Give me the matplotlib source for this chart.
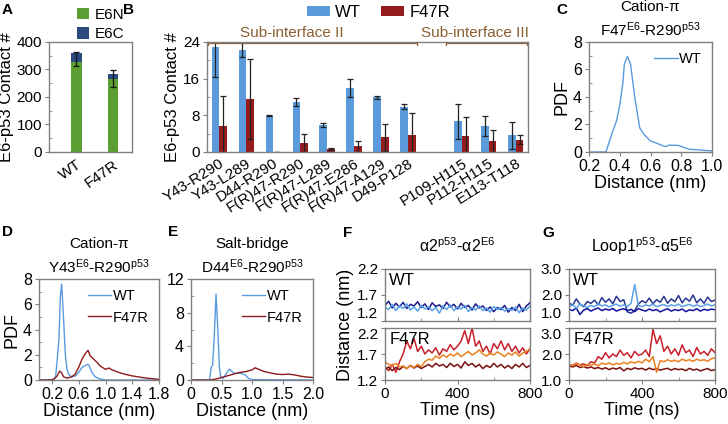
import matplotlib
import numpy as np

matplotlib.use("Agg")
import matplotlib.pyplot as plt  # noqa: E402
from matplotlib.ticker import MultipleLocator  # noqa: E402

plt.rcParams["font.family"] = ["Liberation Sans", "DejaVu Sans"]
plt.rcParams["mathtext.fontset"] = "custom"
plt.rcParams["mathtext.rm"] = "Liberation Sans"
plt.rcParams["mathtext.it"] = "Liberation Sans:italic"
plt.rcParams["mathtext.bf"] = "Liberation Sans:bold"
plt.rcParams["axes.edgecolor"] = "#808080"
plt.rcParams["axes.linewidth"] = 1.0
plt.rcParams["xtick.color"] = "#808080"
plt.rcParams["ytick.color"] = "#808080"
plt.rcParams["xtick.labelcolor"] = "black"
plt.rcParams["ytick.labelcolor"] = "black"

# ---- A: total contacts -------------------------------------------------
a_variants = ["WT", "F47R"]
a_e6n = [328, 267]
a_e6c = [33, 16]
a_err_mid = [337, 266]
a_err = [25, 31]

# ---- B: residue pair contacts -------------------------------------------
b_pairs = ["Y43-R290", "Y43-L289", "D44-R290", "F(R)47-R290", "F(R)47-L289",
           "F(R)47-E286", "F(R)47-A129", "D49-P128",
           "P109-H115", "P112-H115", "E113-T118"]
b_wt = [22.8, 22.3, 7.95, 10.85, 5.9, 13.9, 11.9, 9.9, 6.7, 5.6, 3.6]
b_wt_err = [6.5, 1.6, 0.2, 0.85, 0.4, 1.95, 0.25, 0.5, 3.85, 2.2, 2.85]
b_mut = [5.7, 11.5, 0.1, 1.95, 0.6, 1.2, 3.2, 3.75, 3.4, 2.4, 2.7]
b_mut_err = [6.5, 8.7, 0.0, 2.0, 0.25, 1.2, 2.9, 4.85, 4.3, 2.3, 1.05]

# ---- C: F47-R290 distance PDF (WT) ---------------------------------------
c_x = [0.2, 0.25, 0.31, 0.35, 0.38, 0.40, 0.42, 0.43, 0.45, 0.47, 0.50, 0.53,
       0.56, 0.60, 0.65, 0.68, 0.70, 0.72, 0.78, 0.80, 0.85, 0.90, 0.95, 1.0]
c_wt = [0.0, 0.0, 0.0, 1.37, 2.3, 3.4, 5.0, 6.4, 6.95, 6.4, 3.8, 1.75,
        1.25, 0.8, 0.6, 0.45, 0.4, 0.5, 0.48, 0.4, 0.2, 0.17, 0.12, 0.08]

# ---- D: Y43-R290 distance PDF ---------------------------------------------
d_x_wt = [0.0, 0.14, 0.22, 0.25, 0.28, 0.30, 0.32, 0.34, 0.37, 0.395, 0.42,
          0.445, 0.49, 0.54, 0.595, 0.645, 0.695, 0.735, 0.755, 0.795, 0.845,
          0.895, 0.945, 1.0, 1.8]
d_wt = [0.0, 0.0, 0.05, 0.3, 2.0, 3.4, 6.6, 7.6, 4.7, 2.0, 0.85,
        0.45, 0.25, 0.3, 0.6, 1.0, 1.15, 1.25, 1.1, 0.6, 0.25,
        0.12, 0.05, 0.0, 0.0]
d_x_mut = [0.0, 0.15, 0.22, 0.27, 0.31, 0.335, 0.37, 0.42, 0.49, 0.54, 0.595,
           0.645, 0.695, 0.735, 0.77, 0.82, 0.87, 0.92, 0.995, 1.05, 1.095,
           1.15, 1.195, 1.295, 1.395, 1.545, 1.695, 1.8]
d_mut = [0.0, 0.0, 0.05, 0.3, 0.7, 0.6, 0.25, 0.15, 0.25, 0.45, 1.0,
         1.65, 2.1, 2.35, 1.9, 1.65, 1.4, 1.1, 0.85, 0.95, 0.8,
         0.7, 0.6, 0.45, 0.33, 0.2, 0.1, 0.05]

# ---- E: D44-R290 distance PDF ---------------------------------------------
e_x_wt = [0.0, 0.305, 0.33, 0.355, 0.38, 0.41, 0.44, 0.465, 0.49, 0.53, 0.59,
          0.63, 0.70, 0.81, 0.89, 0.94, 1.0, 2.0]
e_wt = [0.0, 0.0, 1.5, 1.8, 5.0, 10.2, 6.0, 1.5, 0.3, 0.2, 0.9,
        1.3, 0.8, 0.8, 0.6, 0.2, 0.05, 0.0]
e_x_mut = [0.0, 0.3, 0.4, 0.5, 0.6, 0.7, 0.8, 0.9, 1.0, 1.05, 1.1, 1.2, 1.3,
           1.4, 1.5, 1.6, 1.7, 1.8, 1.9, 2.0]
e_mut = [0.0, 0.0, 0.1, 0.3, 0.5, 0.7, 0.9, 1.0, 1.2, 1.45, 1.3, 1.0, 0.85,
         0.7, 0.65, 0.7, 0.6, 0.45, 0.35, 0.3]

# ---- F / G: distance time series (sampled every 20 ns) -----------------
f_wt_light = [1.47, 1.42, 1.52, 1.40, 1.49, 1.44, 1.53, 1.41, 1.47, 1.39,
              1.50, 1.43, 1.48, 1.40, 1.46, 1.35, 1.49, 1.42, 1.51, 1.40,
              1.47, 1.43, 1.50, 1.38, 1.46, 1.41, 1.49, 1.40, 1.45, 1.37,
              1.48, 1.42, 1.46, 1.39, 1.44, 1.40, 1.47, 1.36, 1.45, 1.41, 1.49]
f_wt_navy = [1.50, 1.58, 1.45, 1.54, 1.47, 1.56, 1.44, 1.52, 1.49, 1.57,
             1.46, 1.53, 1.42, 1.55, 1.48, 1.51, 1.44, 1.56, 1.47, 1.52,
             1.43, 1.54, 1.46, 1.50, 1.41, 1.53, 1.45, 1.49, 1.40, 1.47,
             1.38, 1.46, 1.42, 1.50, 1.37, 1.46, 1.40, 1.52, 1.38, 1.49, 1.55]
f_mut_red = [1.45, 1.38, 1.50, 1.35, 1.55, 1.70, 1.95, 1.80, 2.00, 1.75,
             1.85, 1.70, 1.78, 1.72, 1.82, 1.68, 1.80, 1.75, 1.88, 1.78,
             1.85, 1.95, 2.15, 1.90, 2.20, 1.85, 1.95, 1.75, 1.85, 1.70,
             1.90, 1.80, 1.95, 1.78, 1.90, 1.75, 1.85, 1.72, 1.82, 1.70, 1.80]
f_mut_orange = [1.55, 1.50, 1.48, 1.52, 1.45, 1.47, 1.42, 1.48, 1.44, 1.50,
                1.46, 1.55, 1.60, 1.58, 1.66, 1.62, 1.68, 1.64, 1.70, 1.66,
                1.72, 1.65, 1.70, 1.75, 1.68, 1.72, 1.78, 1.70, 1.66, 1.72,
                1.68, 1.74, 1.70, 1.65, 1.72, 1.68, 1.74, 1.66, 1.72, 1.75, 1.80]
f_mut_dark = [1.40, 1.45, 1.38, 1.44, 1.40, 1.46, 1.42, 1.48, 1.43, 1.47,
              1.42, 1.46, 1.50, 1.45, 1.52, 1.47, 1.50, 1.44, 1.52, 1.46,
              1.50, 1.43, 1.55, 1.48, 1.52, 1.45, 1.50, 1.42, 1.48, 1.44,
              1.52, 1.45, 1.50, 1.43, 1.48, 1.42, 1.50, 1.45, 1.52, 1.44, 1.48]

g_wt_light = [1.55, 1.62, 1.50, 1.65, 1.58, 1.52, 1.60, 1.55, 1.66, 1.58,
              1.62, 1.54, 1.60, 1.65, 1.57, 1.62, 1.55, 1.68, 2.40, 1.60,
              1.55, 1.62, 1.58, 1.65, 1.55, 1.60, 1.63, 1.56, 1.62, 1.58,
              1.65, 1.55, 1.60, 1.64, 1.57, 1.62, 1.55, 1.60, 1.65, 1.58, 1.62]
g_wt_dark = [1.70, 1.60, 1.85, 1.65, 1.55, 1.75, 1.68, 1.80, 1.62, 1.90,
             1.72, 1.85, 1.66, 1.95, 1.75, 1.82, 1.35, 1.30, 1.40, 1.65,
             1.78, 1.70, 1.88, 1.66, 1.82, 1.72, 1.95, 1.68, 1.85, 1.74,
             1.98, 1.70, 1.88, 1.76, 2.00, 1.70, 1.85, 1.68, 1.92, 1.75, 1.80]
g_wt_navy = [1.45, 1.40, 1.50, 1.25, 1.42, 1.48, 1.38, 1.45, 1.50, 1.40,
             1.46, 1.42, 1.48, 1.38, 1.44, 1.47, 1.40, 1.45, 1.36, 1.48,
             1.42, 1.38, 1.46, 1.40, 1.44, 1.35, 1.42, 1.47, 1.38, 1.44,
             1.40, 1.46, 1.36, 1.43, 1.40, 1.47, 1.38, 1.45, 1.41, 1.46, 1.43]
g_mut_red = [1.60, 1.55, 1.65, 1.58, 1.62, 1.55, 1.70, 1.65, 1.90, 1.80,
             2.05, 1.85, 2.00, 1.90, 2.15, 1.95, 2.05, 1.85, 2.10, 1.95,
             2.00, 2.15, 1.90, 2.95, 2.40, 2.70, 2.10, 2.30, 2.00, 2.20,
             1.95, 2.35, 2.05, 2.15, 1.90, 2.25, 2.00, 2.10, 1.95, 2.20, 2.05]
g_mut_orange = [1.60, 1.55, 1.62, 1.58, 1.52, 1.60, 1.56, 1.62, 1.55, 1.65,
                1.60, 1.66, 1.58, 1.64, 1.60, 1.68, 1.62, 1.70, 1.65, 1.72,
                1.66, 1.80, 1.70, 1.90, 1.30, 1.75, 1.70, 1.78, 1.72, 1.76,
                1.70, 1.80, 1.74, 1.78, 1.72, 1.80, 1.75, 1.78, 1.72, 1.82, 1.85]
g_mut_dark = [1.55, 1.50, 1.56, 1.48, 1.52, 1.46, 1.50, 1.44, 1.48, 1.42,
              1.47, 1.40, 1.46, 1.42, 1.48, 1.35, 1.45, 1.40, 1.47, 1.42,
              1.45, 1.38, 1.46, 1.40, 1.44, 1.38, 1.42, 1.45, 1.38, 1.44,
              1.40, 1.42, 1.36, 1.45, 1.38, 1.42, 1.35, 1.40, 1.44, 1.36, 1.40]
time_ns = np.arange(0, 801, 20)

C_WT = "#5a9be0"
C_MUT = "#8b1a1a"
C_BAR_WT = "#5b9bdc"
C_BAR_MUT = "#951c1c"
C_E6N = "#5b9e32"
C_E6C = "#2b4a80"
BROWN = "#8b5e34"

W, H = 728, 424
fig = plt.figure(figsize=(W / 100, H / 100), dpi=100)


def ax_at(left, top, right, bottom):
    return fig.add_axes([left / W, 1 - bottom / H, (right - left) / W, (bottom - top) / H])


def style(ax, fs=11):
    ax.tick_params(which="major", direction="out", length=3, width=0.8, labelsize=fs, pad=2)
    ax.tick_params(which="minor", direction="in", length=2, width=0.6)


def panel_label(x, y, s):
    fig.text(x / W, 1 - y / H, s, fontsize=11, fontweight="bold", ha="left", va="center")


# ---- A ----
axA = ax_at(49, 42, 132, 152)
xa = np.arange(len(a_variants))
axA.bar(xa, a_e6n, 0.3, color=C_E6N, label="E6N")
axA.bar(xa, a_e6c, 0.3, bottom=a_e6n, color=C_E6C, label="E6C")
axA.errorbar(xa, a_err_mid, yerr=a_err, fmt="none", ecolor="#111111", elinewidth=0.9,
             capsize=2.5, capthick=0.9)
axA.set_xlim(-0.75, 1.52)
axA.set_ylim(0, 400)
axA.set_yticks([0, 100, 200, 300, 400])
axA.yaxis.set_minor_locator(MultipleLocator(50))
axA.set_xticks(xa)
axA.set_xticklabels(a_variants, rotation=35, ha="right", rotation_mode="anchor")
style(axA)
axA.tick_params(axis="x", length=0, pad=4)
axA.set_ylabel("E6-p53 Contact #", fontsize=12, labelpad=2)
fig.legend(handles=axA.patches[:1] + axA.patches[2:3], labels=["E6N", "E6C"],
           loc="upper left", bbox_to_anchor=(66 / W, 1 + 3 / H), frameon=False,
           fontsize=11, handlelength=0.8, handleheight=0.8, handletextpad=0.35,
           labelspacing=0.35, borderpad=0.2)

# ---- B ----
axB = ax_at(207, 42, 528, 152)
xb = np.array(list(range(8)) + [9, 10, 11])
bw = 0.28
axB.bar(xb - bw / 2, b_wt, bw, color=C_BAR_WT, label="WT")
axB.bar(xb + bw / 2, b_mut, bw, color=C_BAR_MUT, label="F47R")
axB.errorbar(xb - bw / 2, b_wt, yerr=b_wt_err, fmt="none", ecolor="#222222",
             elinewidth=0.9, capsize=2.5, capthick=0.9)
axB.errorbar(xb + bw / 2, b_mut, yerr=b_mut_err, fmt="none", ecolor="#222222",
             elinewidth=0.9, capsize=2.5, capthick=0.9)
axB.set_xlim(-0.45, 11.45)
axB.set_ylim(0, 24)
axB.set_yticks([0, 8, 16, 24])
axB.yaxis.set_minor_locator(MultipleLocator(4))
axB.set_xticks(xb)
axB.set_xticklabels(b_pairs, rotation=32, ha="right", rotation_mode="anchor", fontsize=10)
style(axB)
axB.tick_params(axis="x", length=0, pad=3)
axB.set_ylabel("E6-p53 Contact #", fontsize=12, labelpad=2)
for x0, x1, xt, txt in [(-0.42, 7.33, 2.7, "Sub-interface II"),
                        (8.4, 11.42, 9.5, "Sub-interface III")]:
    axB.plot([x0, x1], [23.7, 23.7], color=BROWN, lw=0.9, clip_on=False)
    for xe in (x0, x1):
        axB.plot([xe, xe], [23.35, 24.05], color=BROWN, lw=0.9, clip_on=False)
    axB.text(xt, 26.0, txt, color=BROWN, fontsize=11, ha="center", va="center")
axB.legend(loc="upper left", bbox_to_anchor=(0.28, 1.43), ncol=2, frameon=False,
           fontsize=12, handlelength=1.4, handleheight=0.55, handletextpad=0.3,
           columnspacing=1.2, borderpad=0.1)


# ---- PDF panels ----
def pdf_panel(ax, title, curves, xlim, xticks, ylim, yticks):
    for xs, ys, col, lab in curves:
        ax.plot(xs, ys, color=col, lw=1.0, label=lab)
    ax.set_xlim(*xlim)
    ax.set_ylim(*ylim)
    ax.set_xticks(xticks)
    ax.set_yticks(yticks)
    style(ax, 11.5)
    ax.set_xlabel("Distance (nm)", fontsize=13, labelpad=1)
    ax.set_ylabel("PDF", fontsize=13, labelpad=2)
    ax.set_title(title, fontsize=11, linespacing=1.45, pad=4)
    ax.legend(loc="upper right", frameon=False, fontsize=10.5, handlelength=1.6,
              handletextpad=0.1, borderaxespad=0.3, labelspacing=0.5)


axC = ax_at(589, 42, 712, 152)
pdf_panel(axC, "Cation-π\nF47$^{\\mathrm{E6}}$-R290$^{\\mathrm{p53}}$",
          [(c_x, c_wt, C_WT, "WT")], (0.2, 1.0), [0.2, 0.4, 0.6, 0.8, 1.0],
          (0, 8), [0, 2, 4, 6, 8])
axC.yaxis.set_minor_locator(MultipleLocator(1))

axD = ax_at(39, 279, 159, 380)
pdf_panel(axD, "Cation-π\nY43$^{\\mathrm{E6}}$-R290$^{\\mathrm{p53}}$",
          [(d_x_wt, d_wt, C_WT, "WT"), (d_x_mut, d_mut, C_MUT, "F47R")],
          (0, 1.8), [0.2, 0.6, 1.0, 1.4, 1.8], (0, 8), [0, 2, 4, 6, 8])
axD.yaxis.set_minor_locator(MultipleLocator(1))

axE = ax_at(191, 279, 313, 380)
pdf_panel(axE, "Salt-bridge\nD44$^{\\mathrm{E6}}$-R290$^{\\mathrm{p53}}$",
          [(e_x_wt, e_wt, C_WT, "WT"), (e_x_mut, e_mut, C_MUT, "F47R")],
          (0, 2.0), [0, 0.5, 1.0, 1.5, 2.0], (0, 12), [0, 4, 8, 12])
axE.set_xticklabels(["0", "0.5", "1.0", "1.5", "2.0"])
axE.yaxis.set_minor_locator(MultipleLocator(2))
axE.set_ylabel("")


# ---- time series panels ----
def ts_pair(left, right, title, wt_traces, mut_traces, ylim, yticks, ylab):
    top = ax_at(left, 269, right, 321)
    bot = ax_at(left, 328, right, 380)
    for ax, traces, tag in [(top, wt_traces, "WT"), (bot, mut_traces, "F47R")]:
        for ys, col in traces:
            ax.plot(time_ns, ys, color=col, lw=1.1)
        ax.set_xlim(0, 800)
        ax.set_ylim(*ylim)
        ax.set_yticks(yticks)
        ax.set_yticklabels([f"{v:.1f}" for v in yticks])
        ax.set_xticks([0, 400, 800])
        ax.xaxis.set_minor_locator(MultipleLocator(200))
        style(ax, 11)
        ax.text(0.03, 0.93, tag, transform=ax.transAxes, fontsize=12, va="top", ha="left")
    top.tick_params(axis="x", which="both", direction="in", labelbottom=False)
    top.get_yticklabels()[0].set_va("bottom")
    bot.get_yticklabels()[-1].set_va("top")
    top.set_title(title, fontsize=11.5, pad=12)
    bot.set_xlabel("Time (ns)", fontsize=13, labelpad=1)
    if ylab:
        fig.text(345 / W, 1 - 325 / H, "Distance (nm)", rotation=90, fontsize=13,
                 ha="center", va="center")
    return top, bot


ts_pair(385, 530, "α2$^{\\mathrm{p53}}$-α2$^{\\mathrm{E6}}$",
        [(f_wt_navy, "#1b1b8e"), (f_wt_light, "#5aa2e6")],
        [(f_mut_red, "#c8202a"), (f_mut_dark, "#7a0f0f"), (f_mut_orange, "#ea8020")],
        (1.2, 2.2), [1.2, 1.7, 2.2], True)
ts_pair(569, 715, "Loop1$^{\\mathrm{p53}}$-α5$^{\\mathrm{E6}}$",
        [(g_wt_dark, "#2a3590"), (g_wt_navy, "#12129a"), (g_wt_light, "#5aa2e6")],
        [(g_mut_red, "#c8202a"), (g_mut_dark, "#7a0f0f"), (g_mut_orange, "#ea8020")],
        (1.0, 3.0), [1.0, 2.0, 3.0], False)

panel_label(2, 10, "A")
panel_label(123, 10, "B")
panel_label(556, 10, "C")
panel_label(2, 232, "D")
panel_label(168, 232, "E")
panel_label(343, 233, "F")
panel_label(542, 233, "G")

fig.savefig("out.png", dpi=100)
